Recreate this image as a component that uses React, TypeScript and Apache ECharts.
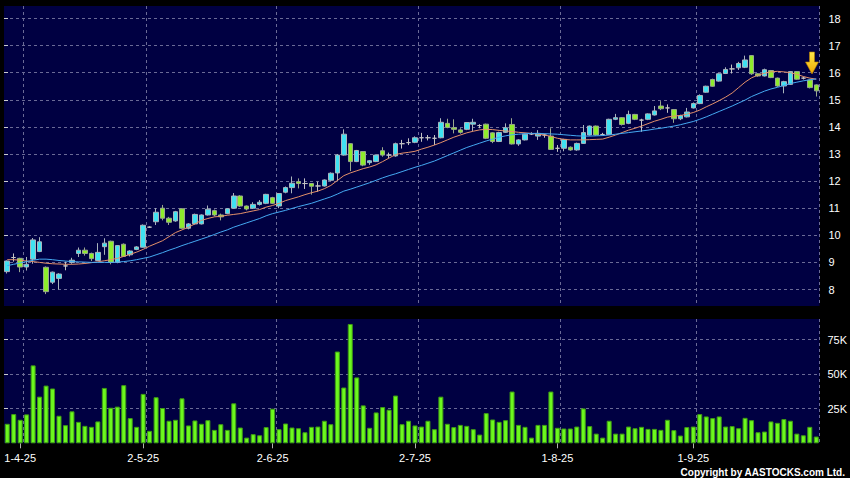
import React, { useEffect, useRef } from 'react';
import * as echarts from 'echarts';

// ---- data ----
const opens = [8.66,9.18,9.15,8.83,9.12,9.40,8.82,8.27,8.41,8.87, 9.00,9.33,9.45,9.33,9.07,9.58,9.78,9.00,9.67,9.28, 9.48,9.56,10.30,10.50,11.00,10.63,10.53,10.98,10.26,10.42, 10.42,10.75,10.91,10.75,10.80,11.00,11.45,11.08,11.00,11.14, 11.18,11.39,11.08,11.59,11.76,11.98,11.91,11.91,11.82,11.82, 12.03,12.30,12.96,13.38,12.72,13.09,12.68,12.72,13.12,12.96, 12.93,13.38,13.42,13.43,13.60,13.60,13.58,13.60,14.13,13.97, 13.89,13.91,14.10,14.05,14.10,13.78,13.46,13.80,14.09,13.37, 13.52,13.74,13.66,13.70,13.66,13.21,13.21,13.25,13.15,13.39, 13.70,14.03,13.72,13.72,14.28,14.34,14.13,14.46,14.25,14.28, 14.44,14.77,14.70,14.64,14.30,14.37,14.70,14.86,15.28,15.75, 15.69,15.97,16.14,16.18,16.20,16.63,15.96,15.88,16.08,15.80, 15.51,15.57,16.04,15.80,15.73,15.55];
const closes = [9.05,9.18,8.83,8.93,9.83,9.76,7.92,8.64,8.57,8.87, 9.08,9.45,9.33,9.14,9.37,9.71,9.00,9.62,9.22,9.42, 9.57,10.37,10.30,10.85,10.63,10.48,10.87,10.26,10.42,10.77, 10.75,10.96,10.75,10.68,10.98,11.45,11.08,10.97,11.14,11.22, 11.51,11.18,11.54,11.76,11.92,11.91,11.91,11.81,11.82,12.04, 12.29,12.96,13.73,12.72,13.13,12.59,12.75,12.96,12.96,12.96, 13.38,13.38,13.42,13.60,13.60,13.60,13.58,14.17,13.98,13.91, 13.80,14.16,14.17,14.05,13.58,13.46,13.79,13.97,13.37,13.52, 13.73,13.74,13.76,13.70,13.17,13.21,13.54,13.15,13.39,13.79, 14.03,13.70,13.72,14.28,14.34,14.09,14.46,14.28,14.25,14.48, 14.59,14.67,14.70,14.30,14.42,14.55,14.86,15.16,15.50,15.50, 15.96,16.12,16.14,16.34,16.47,15.96,15.88,16.11,15.82,15.51, 15.67,16.04,15.76,15.80,15.45,15.33];
const lows = [8.59,9.03,8.64,8.70,8.95,9.38,7.83,8.20,8.00,8.71, 8.95,9.20,9.25,9.05,9.05,9.28,8.93,8.97,9.20,9.22, 9.45,9.55,10.27,10.38,10.55,10.38,10.50,10.24,10.22,10.40, 10.40,10.73,10.70,10.55,10.78,10.98,11.05,10.92,10.98,11.10, 11.15,11.15,11.00,11.55,11.55,11.73,11.71,11.50,11.61,11.80, 12.00,11.99,12.94,12.37,12.70,12.55,12.60,12.70,12.90,12.85, 12.90,13.20,13.33,13.40,13.45,13.50,13.33,13.58,13.95,13.76, 13.75,13.88,13.85,13.95,13.55,13.40,13.44,13.78,13.35,13.30, 13.50,13.70,13.52,13.60,13.15,13.08,13.10,13.12,13.12,13.37, 13.68,13.68,13.68,13.70,14.25,14.05,14.10,14.25,13.82,14.25, 14.42,14.62,14.52,14.15,14.25,14.35,14.68,14.84,15.26,15.48, 15.67,15.95,15.97,16.10,16.17,15.92,15.85,15.86,15.80,15.48, 15.24,15.55,15.74,15.75,15.42,15.12];
const highs = [9.07,9.33,9.17,9.20,9.90,9.93,8.85,8.66,8.60,9.03, 9.17,9.55,9.55,9.36,9.71,9.89,9.80,9.64,9.70,9.45, 9.60,10.40,10.33,11.00,11.12,10.68,10.90,11.00,10.45,10.80, 10.77,11.10,10.95,10.80,11.00,11.56,11.48,11.10,11.22,11.30, 11.53,11.42,11.56,11.80,12.17,12.10,12.10,11.93,11.98,12.06, 12.32,13.00,13.91,13.40,13.15,13.10,12.78,12.98,13.25,13.05, 13.42,13.52,13.58,13.65,13.78,13.70,13.70,14.32,14.30,14.28, 13.95,14.18,14.30,14.10,14.12,13.80,13.82,14.13,14.32,13.55, 13.75,13.80,13.88,13.75,13.95,13.33,13.56,13.28,13.42,14.07, 14.05,14.05,13.78,14.30,14.48,14.36,14.60,14.48,14.30,14.50, 14.77,14.95,14.83,14.66,14.45,14.70,14.90,15.20,15.52,15.78, 15.98,16.20,16.30,16.40,16.63,16.65,15.98,16.15,16.10,15.82, 15.70,16.06,16.06,15.85,15.75,15.57];
const volumes = [14100,21100,17000,20900,56300,33700,41700,39600,19900,13100, 23100,15500,12600,11900,15800,40000,25700,26500,42000,18200, 11900,35700,9000,33300,25500,16300,17000,32500,12900,16500, 14100,16700,9700,13800,9700,28900,11400,4100,6600,5800, 11700,25000,10200,14300,11400,10900,8000,11900,12100,16300, 13800,66300,40300,86200,47600,27400,11200,22300,26200,24300, 34500,13800,16300,12900,12100,16300,10200,33700,14100,11700, 13300,12600,10200,6300,21800,17200,15500,16700,37400,13300, 11900,4100,13300,13300,37400,11200,10700,10700,12100,25200, 12400,7000,4100,16300,7000,7000,12100,10900,11900,10400, 10400,9700,17000,9500,5600,11700,12100,21100,19400,18200, 19400,12100,12400,10900,18400,16700,8000,8500,15800,14800, 17500,16300,7000,5800,11900,4900];
const ma10 = [9.10,9.10,9.08,9.05,9.03,9.00,8.97,8.95,8.94,8.93, 8.93,8.94,8.96,8.99,9.02,9.06,9.10,9.15,9.22,9.30, 9.38,9.48,9.60,9.70,9.80,9.95,10.10,10.20,10.30,10.42, 10.55,10.62,10.68,10.70,10.74,10.77,10.80,10.85,10.90,10.95, 11.04,11.10,11.18,11.28,11.35,11.42,11.50,11.57,11.63,11.72, 11.84,12.02,12.20,12.30,12.38,12.46,12.52,12.60,12.72,12.85, 12.98,13.03,13.06,13.10,13.18,13.25,13.33,13.42,13.52,13.62, 13.70,13.78,13.84,13.89,13.91,13.90,13.87,13.85,13.83,13.80, 13.78,13.76,13.73,13.70,13.65,13.58,13.54,13.52,13.52,13.52, 13.53,13.54,13.55,13.62,13.70,13.79,13.88,13.95,14.03,14.12, 14.21,14.28,14.36,14.40,14.42,14.47,14.53,14.62,14.74,14.85, 14.97,15.10,15.25,15.45,15.65,15.81,15.91,15.98,16.03,16.05, 16.03,16.00,15.94,15.86,15.80,15.76];
const ma20 = [8.88,8.93,8.98,9.03,9.08,9.12,9.12,9.10,9.07,9.05, 9.03,9.02,9.01,9.00,9.00,9.00,9.00,9.01,9.03,9.06, 9.10,9.15,9.20,9.28,9.36,9.45,9.53,9.62,9.70,9.78, 9.86,9.94,10.03,10.12,10.20,10.30,10.38,10.46,10.54,10.62, 10.72,10.80,10.86,10.92,10.99,11.06,11.12,11.18,11.26,11.34, 11.42,11.52,11.63,11.70,11.78,11.86,11.94,12.03,12.12,12.20, 12.27,12.35,12.43,12.51,12.58,12.66,12.74,12.84,12.94,13.04, 13.14,13.24,13.32,13.40,13.48,13.55,13.62,13.67,13.71,13.73, 13.75,13.76,13.76,13.75,13.74,13.73,13.71,13.69,13.67,13.66, 13.66,13.67,13.68,13.70,13.73,13.76,13.79,13.82,13.85,13.88, 13.92,13.95,13.99,14.03,14.08,14.14,14.20,14.28,14.37,14.47, 14.57,14.67,14.77,14.88,14.99,15.12,15.22,15.32,15.40,15.46, 15.53,15.60,15.65,15.70,15.74,15.77];
const tickIndex = [2, 21, 41, 63, 85, 106];
const tickLabels = ['1-4-25', '2-5-25', '2-6-25', '2-7-25', '1-8-25', '1-9-25'];
const priceAxis = { min: 8, max: 18, step: 1 };
const volumeAxis = { min: 25000, max: 75000, step: 25000 };

const categories = opens.map((_, i) => String(i));
const candleData = opens.map((o, i) => [o, closes[i], lows[i], highs[i]]);

const NAVY = '#000042';
const dash = { color: '#6a6a96', type: [3, 3] as number[], width: 1 };
const FONT = '"Liberation Sans", Arial, sans-serif';

const isTick = (i: number) => tickIndex.includes(i);
const afterTick = (i: number) => tickIndex.includes(i - 1);

function buildOption(): any {
  return {
    animation: false,
    backgroundColor: '#000',
    textStyle: { fontFamily: FONT },
    grid: [
      { left: 4, top: 6, width: 815.5, height: 300 },
      { left: 4, top: 319, width: 815.5, height: 124.3 },
      { left: 4, top: 18.5, width: 815.5, height: 271 },
      { left: 4, top: 339.5, width: 815.5, height: 69.2 },
    ],
    xAxis: [
      {
        type: 'category', gridIndex: 0, data: categories,
        axisLine: { show: false }, axisTick: { show: false }, axisLabel: { show: false },
        splitLine: { show: true, interval: (i: number) => afterTick(i), lineStyle: dash },
      },
      {
        type: 'category', gridIndex: 1, data: categories,
        axisLine: { show: false },
        axisTick: { show: true, alignWithLabel: true, interval: (i: number) => isTick(i), length: 5, lineStyle: { color: '#b0b0b0' } },
        axisLabel: {
          interval: (i: number) => isTick(i), color: '#ffffff', fontSize: 11, margin: 9, fontFamily: FONT,
          formatter: (v: string) => { const k = tickIndex.indexOf(Number(v)); return k >= 0 ? tickLabels[k] : ''; },
        },
        splitLine: { show: true, interval: (i: number) => afterTick(i), lineStyle: dash },
      },
      { type: 'value', gridIndex: 2, show: false, min: 0, max: 1 },
      { type: 'value', gridIndex: 3, show: false, min: 0, max: 1 },
    ],
    yAxis: [
      { type: 'value', gridIndex: 0, show: false, min: 7.391, max: 18.461 },
      { type: 'value', gridIndex: 1, show: false, min: 0, max: 89800 },
      {
        type: 'value', gridIndex: 2, position: 'right', offset: 3,
        min: priceAxis.min, max: priceAxis.max, interval: priceAxis.step,
        axisLine: { show: false },
        axisTick: { show: true, length: 4, lineStyle: { color: '#cccccc' } },
        axisLabel: { color: '#ffffff', fontSize: 11, margin: 6, fontFamily: FONT },
        splitLine: { show: true, lineStyle: dash },
      },
      {
        type: 'value', gridIndex: 3, position: 'right', offset: 3,
        min: volumeAxis.min, max: volumeAxis.max, interval: volumeAxis.step,
        axisLine: { show: false },
        axisTick: { show: true, length: 4, lineStyle: { color: '#cccccc' } },
        axisLabel: { color: '#ffffff', fontSize: 11, margin: 6, fontFamily: FONT, formatter: (v: number) => v / 1000 + 'K' },
        splitLine: { show: true, lineStyle: dash },
      },
    ],
    series: [
      {
        type: 'candlestick', xAxisIndex: 0, yAxisIndex: 0, data: candleData, barWidth: 5,
        itemStyle: {
          color: '#3fe2f2', color0: '#8eec2c',
          borderColor: '#a9b4bc', borderColor0: '#9aa88e', borderColorDoji: '#c4c4c4', borderWidth: 1,
        },
        z: 3,
      },
      {
        type: 'line', xAxisIndex: 0, yAxisIndex: 0, data: ma10, symbol: 'none', showSymbol: false,
        lineStyle: { width: 1, color: '#e3906a' }, itemStyle: { color: '#e3906a' }, z: 4,
      },
      {
        type: 'line', xAxisIndex: 0, yAxisIndex: 0, data: ma20, symbol: 'none', showSymbol: false,
        lineStyle: { width: 1, color: '#45a9f2' }, itemStyle: { color: '#45a9f2' }, z: 4,
      },
      {
        type: 'bar', xAxisIndex: 1, yAxisIndex: 1, data: volumes, barWidth: 5,
        itemStyle: { color: '#6cf81e', borderColor: '#3f9c14', borderWidth: 1 },
      },
    ],
    graphic: [
      { type: 'rect', z: -10, shape: { x: 4, y: 6, width: 815.5, height: 300 }, style: { fill: NAVY } },
      { type: 'rect', z: -10, shape: { x: 4, y: 319, width: 815.5, height: 124.3 }, style: { fill: NAVY } },
      {
        type: 'polygon', z: 20,
        shape: { points: [[809.5, 52], [814.5, 52], [814.5, 62], [818.5, 62], [812, 74], [805.5, 62], [809.5, 62]] },
        style: {
          fill: new echarts.graphic.LinearGradient(0, 0, 0, 1, [
            { offset: 0, color: '#ffe94a' }, { offset: 1, color: '#f0a800' },
          ]),
          stroke: '#b88000', lineWidth: 0.6,
        },
      },
      {
        type: 'text', z: 20,
        style: {
          text: 'Copyright by AASTOCKS.com Ltd.', x: 845, y: 472,
          align: 'right', verticalAlign: 'middle', textAlign: 'right', textVerticalAlign: 'middle',
          fill: '#ffffff', font: 'bold 10px "Liberation Sans", Arial, sans-serif',
        },
      },
    ],
  };
}

export default function App() {
  const ref = useRef<HTMLDivElement>(null);
  useEffect(() => {
    if (!ref.current) return;
    const chart = echarts.init(ref.current, undefined, { renderer: 'svg' });
    chart.setOption(buildOption());
    return () => chart.dispose();
  }, []);
  return (
    <div
      ref={ref}
      style={{ position: 'fixed', left: 0, top: 0, width: 850, height: 478, background: '#000' }}
    />
  );
}
